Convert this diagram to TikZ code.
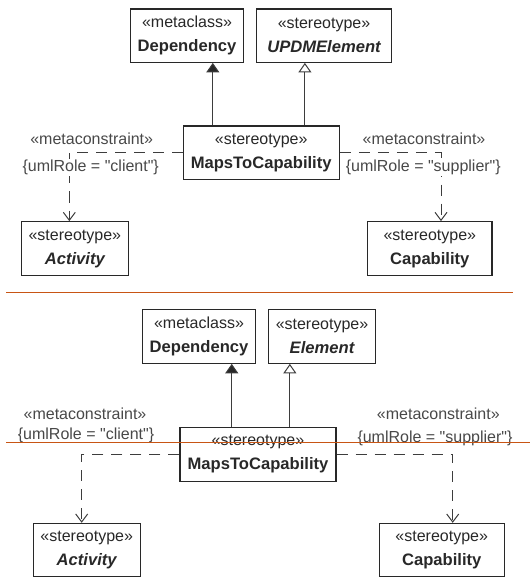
\documentclass[tikz,border=0pt]{standalone}
\usepackage{fontspec}
\setmainfont{Liberation Sans}[Ligatures=TeXOff]
\usetikzlibrary{arrows.meta}
\definecolor{ink}{RGB}{40,40,40}
\definecolor{rule}{RGB}{200,85,20}
\newcommand{\elname}[1]{{\fontsize{16.6}{24}\selectfont\bfseries #1}}
\tikzset{
  umlbox/.style={draw=ink, line width=1.1pt, rectangle, inner sep=0pt, align=center,
    text=ink, font=\fontsize{16}{24}\selectfont, fill=white},
  tag/.style={inner sep=1pt, text=ink!85, font=\fontsize{16}{18}\selectfont},
  tagw/.style={tag, fill=white},
  solidlink/.style={draw=ink!90, line width=1pt},
  filledhead/.style={solidlink, -{Triangle[length=9.5pt,width=13pt,fill=ink]}},
  openhead/.style={solidlink, -{Triangle[open,length=9.5pt,width=13pt,fill=white]}},
  dashlink/.style={draw=ink!90, line width=1pt, dash pattern=on 11pt off 8pt,
    -{Straight Barb[length=8pt,width=12pt]}},
  divider/.style={draw=rule, line width=1.4pt}
}
\begin{document}
\begin{tikzpicture}[x=1pt, y=-1pt]
\useasboundingbox (0,0) rectangle (530,577);

% ---- first variant ----
\node[umlbox, minimum width=112.6pt, minimum height=53.3pt] (d1) at (187,35.7)
  {«metaclass»\\\elname{Dependency}};
\node[umlbox, minimum width=135.4pt, minimum height=53.3pt] (e1) at (324,35.7)
  {«stereotype»\\\elname{\itshape UPDMElement}};
\node[umlbox, minimum width=156.3pt, minimum height=53.3pt] (m1) at (261.2,152.7)
  {«stereotype»\\\elname{MapsToCapability}};
\node[umlbox, minimum width=107pt, minimum height=54pt] (a1) at (74.8,248.7)
  {«stereotype»\\\elname{\itshape Activity}};
\node[umlbox, minimum width=124.3pt, minimum height=54pt] (c1) at (429.8,248.7)
  {«stereotype»\\\elname{Capability}};

\draw[filledhead] ([xshift=30.3pt]m1.north west) -- ([xshift=30.3pt]m1.north west |- d1.south);
\draw[openhead] ([xshift=-35pt]m1.north east) -- ([xshift=-35pt]m1.north east |- e1.south);
\draw[dashlink] (m1.west) -| ([xshift=-5.5pt]a1.north);
\draw[dashlink] (m1.east) -| ([xshift=11.2pt]c1.north);

\node[tag] (lm1) at (91.7,138.3) {«metaconstraint»};
\node[tagw] (lc1) at (90.7,167.3) {\{umlRole = "client"\}};
\node[tag] (rm1) at (424,138.3) {«metaconstraint»};
\node[tagw] (rs1) at (423.3,167.3) {\{umlRole = "supplier"\}};

% ---- second variant ----
\node[umlbox, minimum width=112.6pt, minimum height=54pt] (d2) at (199,336.3)
  {«metaclass»\\\elname{Dependency}};
\node[umlbox, minimum width=106.6pt, minimum height=54pt] (e2) at (322,336.3)
  {«stereotype»\\\elname{\itshape Element}};
\node[umlbox, minimum width=156pt, minimum height=53.7pt] (m2) at (258,454.2)
  {«stereotype»\\\elname{MapsToCapability}};
\node[umlbox, minimum width=106.7pt, minimum height=52.7pt] (a2) at (86.7,549.7)
  {«stereotype»\\\elname{\itshape Activity}};
\node[umlbox, minimum width=124.7pt, minimum height=52.7pt] (c2) at (441.7,549.7)
  {«stereotype»\\\elname{Capability}};

\draw[filledhead] ([xshift=52.3pt]m2.north west) -- ([xshift=52.3pt]m2.north west |- d2.south);
\draw[openhead] ([xshift=-46.7pt]m2.north east) -- ([xshift=-46.7pt]m2.north east |- e2.south);
\draw[dashlink] (m2.west) -| ([xshift=-5pt]a2.north);
\draw[dashlink] (m2.east) -| ([xshift=11pt]c2.north);

\node[tag] (lm2) at (85,414) {«metaconstraint»};
\node[tag] (lc2) at (86,435.3) {\{umlRole = "client"\}};
\node[tag] (rm2) at (438.3,414) {«metaconstraint»};
\node[tag] (rs2) at (435,438) {\{umlRole = "supplier"\}};

% ---- separators ----
\coordinate (s1a) at (6,292.3);
\coordinate (s1b) at (513.3,292.3);
\coordinate (s2a) at (6,442.7);
\coordinate (s2b) at (530,442.7);
\draw[divider] (s1a) -- (s1b);
\draw[divider] (s2a) -- (s2b);
\end{tikzpicture}
\end{document}
